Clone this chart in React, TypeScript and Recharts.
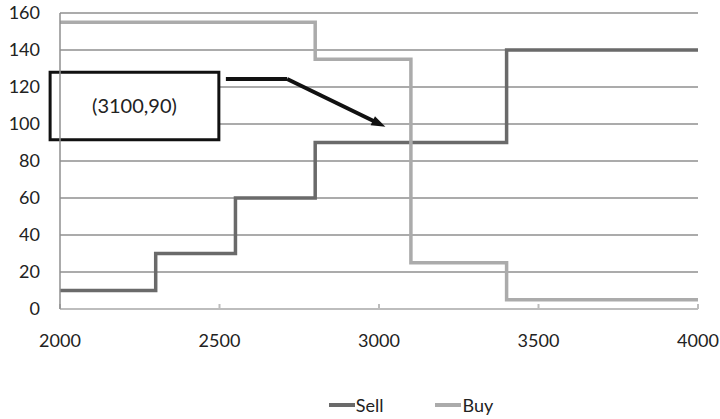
// Supply/demand step chart — Sell vs Buy with an annotated crossing point.
import {
  LineChart, Line, XAxis, YAxis, CartesianGrid, Legend,
  ReferenceArea, ReferenceLine,
} from "recharts";

if (typeof document !== "undefined") document.body.style.margin = "0";

const SELL_X = [2000, 2300, 2550, 2800, 3400, 4000];
const SELL_Y = [10, 30, 60, 90, 140, 140];
const BUY_X = [2000, 2800, 3100, 3400, 4000];
const BUY_Y = [155, 135, 25, 5, 5];
const X_TICKS = [2000, 2500, 3000, 3500, 4000];
const Y_TICKS = [0, 20, 40, 60, 80, 100, 120, 140, 160];

// annotation box + arrow, in data units
const NOTE_TEXT = "(3100,90)";
const NOTE_BOX = { x1: 1969, x2: 2498, y1: 91.5, y2: 128 };
const ARROW = [
  { x: 2520, y: 124.3 },
  { x: 2712, y: 124.3 },
  { x: 3020, y: 98.5 },
];

const SELL_COLOR = "#6a6a6a";
const BUY_COLOR = "#ababab";
const FONT = "Lato, 'Open Sans', sans-serif";

const sellData = SELL_X.map((x, i) => ({ x, y: SELL_Y[i] }));
const buyData = BUY_X.map((x, i) => ({ x, y: BUY_Y[i] }));

const tickStyle = { fontSize: 18, fill: "#222", fontFamily: FONT };

function ArrowShape(props: any) {
  const { x1, y1, x2, y2 } = props;
  const dx = x2 - x1, dy = y2 - y1;
  const len = Math.hypot(dx, dy) || 1;
  const ux = dx / len, uy = dy / len;
  const head = 14, half = 5;
  const bx = x2 - ux * head, by = y2 - uy * head;
  return (
    <g>
      <line x1={x1} y1={y1} x2={bx + ux * 2} y2={by + uy * 2} stroke="#111" strokeWidth={4} />
      <polygon
        points={`${x2},${y2} ${bx - uy * half},${by + ux * half} ${bx + uy * half},${by - ux * half}`}
        fill="#111"
      />
    </g>
  );
}

function LegendContent() {
  const item = (color: string, label: string) => (
    <span style={{ display: "inline-flex", alignItems: "center", margin: "0 26px" }}>
      <span style={{ width: 26, height: 4, background: color, display: "inline-block" }} />
      <span style={{ marginLeft: 1 }}>{label}</span>
    </span>
  );
  return (
    <div style={{ textAlign: "center", fontSize: 18, fontFamily: FONT, color: "#222", paddingLeft: 124 }}>
      {item(SELL_COLOR, "Sell")}
      {item(BUY_COLOR, "Buy")}
    </div>
  );
}

export default function App() {
  return (
    <LineChart width={720} height={419} margin={{ top: 13, right: 22, left: 0, bottom: 2 }}>
      <CartesianGrid vertical={false} stroke="#8f8f8f" strokeWidth={1.5} />
      <XAxis
        type="number"
        dataKey="x"
        domain={[2000, 4000]}
        ticks={X_TICKS}
        allowDataOverflow
        tick={tickStyle}
        tickSize={-5}
        tickMargin={30}
        stroke="#bdbdbd"
        strokeWidth={2}
        height={80}
      />
      <YAxis
        type="number"
        domain={[0, 160]}
        ticks={Y_TICKS}
        tick={tickStyle}
        tickLine={false}
        tickSize={0}
        tickMargin={20}
        stroke="#8f8f8f"
        strokeWidth={1.5}
        width={60}
      />
      <Legend verticalAlign="bottom" height={28} content={<LegendContent />} />
      <Line
        data={sellData}
        dataKey="y"
        name="Sell"
        type="stepAfter"
        stroke={SELL_COLOR}
        strokeWidth={3.5}
        dot={false}
        isAnimationActive={false}
      />
      <Line
        data={buyData}
        dataKey="y"
        name="Buy"
        type="stepAfter"
        stroke={BUY_COLOR}
        strokeWidth={3.5}
        dot={false}
        isAnimationActive={false}
      />
      <ReferenceArea
        x1={NOTE_BOX.x1}
        x2={NOTE_BOX.x2}
        y1={NOTE_BOX.y1}
        y2={NOTE_BOX.y2}
        ifOverflow="visible"
        fill="#fff"
        fillOpacity={1}
        stroke="#111"
        strokeWidth={3}
        label={{ value: NOTE_TEXT, position: "center", fontSize: 20, fill: "#222", fontFamily: FONT }}
      />
      <ReferenceLine
        segment={[ARROW[0], ARROW[1]]}
        ifOverflow="visible"
        stroke="#111"
        strokeWidth={4}
      />
      <ReferenceLine
        segment={[ARROW[1], ARROW[2]]}
        ifOverflow="visible"
        shape={<ArrowShape />}
      />
    </LineChart>
  );
}
